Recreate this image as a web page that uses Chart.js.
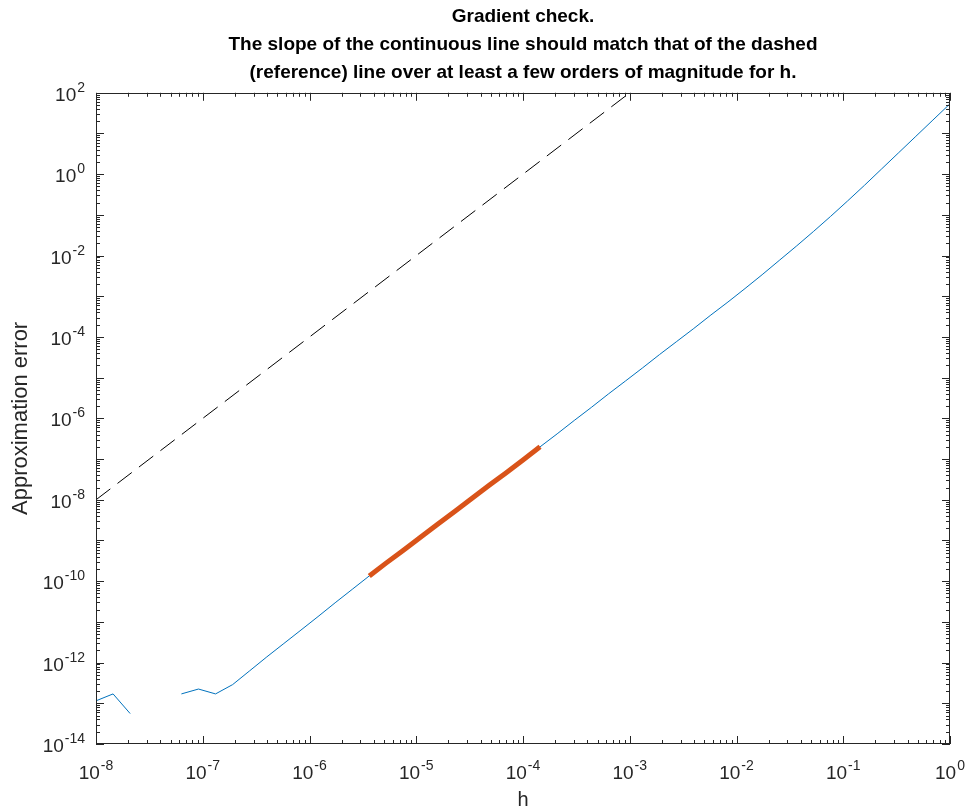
<!DOCTYPE html>
<html>
<head>
<meta charset="utf-8">
<script src="https://cdn.jsdelivr.net/npm/chart.js@4.4.1/dist/chart.umd.min.js"></script>
<style>
  html, body { margin: 0; padding: 0; background: #fff; }
  #wrap { width: 968px; height: 812px; }
</style>
</head>
<body>
<div id="wrap"><canvas id="gradChart" width="968" height="812"></canvas></div>
<script>
// step sizes h (log-spaced, 1e-8 .. 1)
const hValues = [
    1.000e-8, 1.445e-8, 2.089e-8, 3.020e-8, 4.365e-8, 6.310e-8, 9.120e-8,
    1.318e-7, 1.905e-7, 2.754e-7, 3.981e-7, 5.754e-7, 8.318e-7,
    1.202e-6, 1.738e-6, 2.512e-6, 3.631e-6, 5.248e-6, 7.586e-6,
    1.096e-5, 1.585e-5, 2.291e-5, 3.311e-5, 4.786e-5, 6.918e-5,
    1.000e-4, 1.445e-4, 2.089e-4, 3.020e-4, 4.365e-4, 6.310e-4, 9.120e-4,
    1.318e-3, 1.905e-3, 2.754e-3, 3.981e-3, 5.754e-3, 8.318e-3,
    1.202e-2, 1.738e-2, 2.512e-2, 3.631e-2, 5.248e-2, 7.586e-2,
    1.096e-1, 1.585e-1, 2.291e-1, 3.311e-1, 4.786e-1, 6.918e-1, 1.000
];

// approximation error (null = zero error, not drawn on log axis)
const errValues = [
    1.15e-13, 1.70e-13, 5.6e-14, null, null, 1.70e-13, 2.24e-13,
    1.70e-13, 2.88e-13, 6.3e-13, 1.38e-12, 2.95e-12, 6.3e-12,
    1.35e-11, 2.95e-11, 6.3e-11, 1.35e-10, 2.82e-10, 5.75e-10,
    1.20e-9, 2.51e-9, 5.13e-9, 1.07e-8, 2.24e-8, 4.57e-8,
    9.55e-8, 2.0e-7, 4.17e-7, 8.9e-7, 1.86e-6, 3.98e-6, 8.3e-6,
    1.74e-5, 3.72e-5, 7.76e-5, 1.62e-4, 3.47e-4, 7.24e-4,
    1.55e-3, 3.39e-3, 7.59e-3, 1.70e-2, 3.89e-2, 9.12e-2,
    0.219, 0.537, 1.35, 3.39, 8.51, 21.4, 53.7
];

// segment where the slope was fitted (indices into hValues)
const fitStart = 16;
const fitEnd = 26;

// dashed reference line end points
const refH = [1e-8, 1e0];
const refErr = [1e-8, 1e8];

// axis decades
const xExponents = [-8, -7, -6, -5, -4, -3, -2, -1, 0];
const yExponents = [-14, -12, -10, -8, -6, -4, -2, 0, 2];

const titleLines = [
    'Gradient check.',
    'The slope of the continuous line should match that of the dashed',
    '(reference) line over at least a few orders of magnitude for h.'
];

const FONT = '"Liberation Sans", Arial, Helvetica, sans-serif';
const AXIS_COLOR = '#262626';

const errPoints = hValues.map((h, i) => ({ x: h, y: errValues[i] }));
const fitPoints = errPoints.slice(fitStart, fitEnd + 1);
const refPoints = refH.map((h, i) => ({ x: h, y: refErr[i] }));

function drawPower(ctx, exp, px, py, alignRight) {
    const base = '10';
    const sup = String(exp);
    ctx.font = '19px ' + FONT;
    const wb = ctx.measureText(base).width;
    ctx.font = '14px ' + FONT;
    const ws = ctx.measureText(sup).width;
    const total = wb + ws + 1;
    const x0 = alignRight ? px - total : px - total / 2;
    ctx.textAlign = 'left';
    ctx.textBaseline = 'alphabetic';
    ctx.font = '19px ' + FONT;
    ctx.fillText(base, x0, py);
    ctx.font = '14px ' + FONT;
    ctx.fillText(sup, x0 + wb + 1, py - 9);
}

// matlab-like box, inward ticks and 10^n labels
const matlabAxes = {
    id: 'matlabAxes',
    afterDatasetsDraw(chart) {
        const { ctx, chartArea: a, scales } = chart;
        const xs = scales.x, ys = scales.y;
        ctx.save();
        ctx.strokeStyle = AXIS_COLOR;
        ctx.lineWidth = 1;
        ctx.beginPath();

        for (let e = xExponents[0]; e <= xExponents[xExponents.length - 1]; e++) {
            for (let m = 1; m < 10; m++) {
                const v = m * Math.pow(10, e);
                if (v > xs.max * 1.0001) break;
                const px = Math.round(xs.getPixelForValue(v)) + 0.5;
                const len = m === 1 ? 8 : 4;
                ctx.moveTo(px, a.bottom);
                ctx.lineTo(px, a.bottom - len);
                ctx.moveTo(px, a.top);
                ctx.lineTo(px, a.top + len);
            }
        }
        for (let e = yExponents[0]; e <= yExponents[yExponents.length - 1]; e++) {
            for (let m = 1; m < 10; m++) {
                const v = m * Math.pow(10, e);
                if (v > ys.max * 1.0001) break;
                const py = Math.round(ys.getPixelForValue(v)) + 0.5;
                const len = m === 1 ? 8 : 4;
                ctx.moveTo(a.left, py);
                ctx.lineTo(a.left + len, py);
                ctx.moveTo(a.right, py);
                ctx.lineTo(a.right - len, py);
            }
        }
        ctx.stroke();

        ctx.strokeRect(Math.round(a.left) + 0.5, Math.round(a.top) + 0.5,
            Math.round(a.width) - 1, Math.round(a.height) - 1);

        ctx.fillStyle = AXIS_COLOR;
        xExponents.forEach(e => {
            drawPower(ctx, e, xs.getPixelForValue(Math.pow(10, e)), a.bottom + 35, false);
        });
        yExponents.forEach(e => {
            drawPower(ctx, e, a.left - 11, ys.getPixelForValue(Math.pow(10, e)) + 8, true);
        });
        ctx.restore();
    }
};

const ctx = document.getElementById('gradChart').getContext('2d');

new Chart(ctx, {
    type: 'line',
    data: {
        datasets: [
            {
                label: 'fit',
                data: fitPoints,
                borderColor: '#D95319',
                borderWidth: 5,
                pointRadius: 0,
                order: 0
            },
            {
                label: 'error',
                data: errPoints,
                borderColor: '#0072BD',
                borderWidth: 1,
                pointRadius: 0,
                spanGaps: false,
                order: 1
            },
            {
                label: 'reference',
                data: refPoints,
                borderColor: '#000000',
                borderWidth: 1,
                borderDash: [18, 9],
                pointRadius: 0,
                order: 2
            }
        ]
    },
    options: {
        responsive: false,
        animation: false,
        devicePixelRatio: 1,
        layout: { padding: { left: 0, right: 18, top: 0, bottom: 0 } },
        plugins: {
            legend: { display: false },
            tooltip: { enabled: false },
            title: {
                display: true,
                fullSize: false,
                text: titleLines,
                color: '#000',
                font: { family: FONT, size: 19, weight: 'bold', lineHeight: 1.47 },
                padding: { top: 3, bottom: 6 }
            }
        },
        scales: {
            x: {
                type: 'logarithmic',
                min: 1e-8,
                max: 1,
                grid: { display: false, drawTicks: false },
                border: { display: false },
                ticks: { display: false },
                title: {
                    display: true,
                    text: 'h',
                    color: AXIS_COLOR,
                    font: { family: FONT, size: 20, lineHeight: 1.2 },
                    padding: { top: 44, bottom: 0 }
                }
            },
            y: {
                type: 'logarithmic',
                min: 1e-14,
                max: 1e2,
                grid: { display: false, drawTicks: false },
                border: { display: false },
                ticks: { display: false },
                title: {
                    display: true,
                    text: 'Approximation error',
                    color: AXIS_COLOR,
                    font: { family: FONT, size: 22, lineHeight: 1.2 },
                    padding: { top: 8, bottom: 61.6 }
                }
            }
        }
    },
    plugins: [matlabAxes]
});
</script>
</body>
</html>
